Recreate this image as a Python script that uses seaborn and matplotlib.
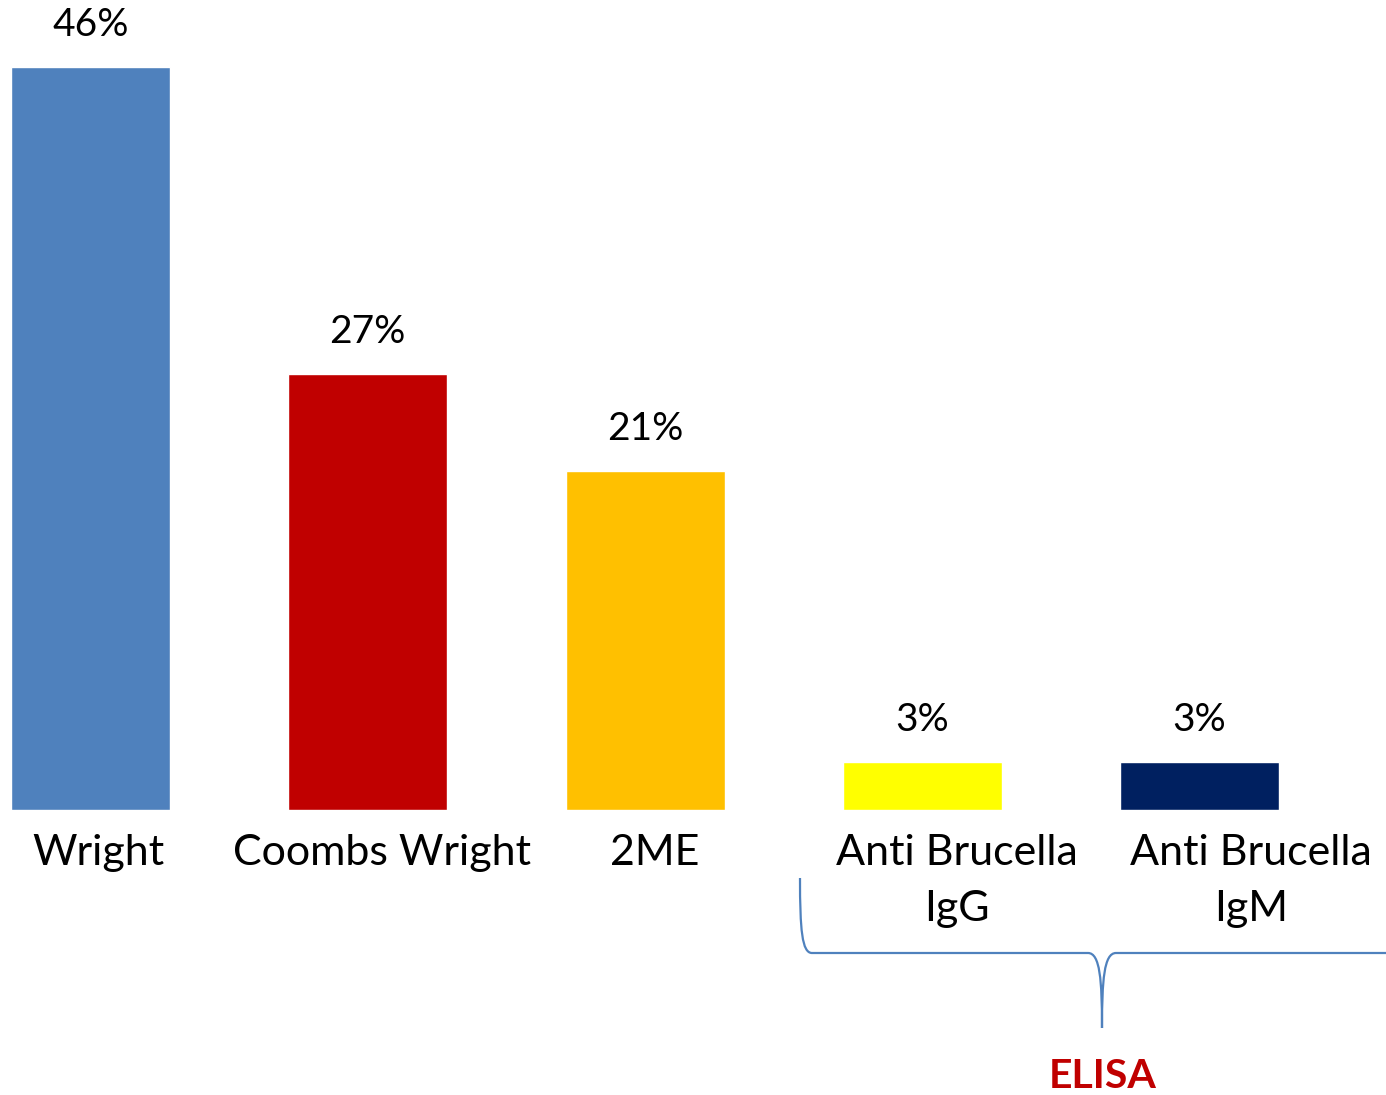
import matplotlib
matplotlib.use("Agg")
import matplotlib.pyplot as plt
from matplotlib.path import Path
from matplotlib.patches import PathPatch
from matplotlib.transforms import ScaledTranslation
import seaborn as sns
import pandas as pd

categories = ["Wright", "Coombs Wright", "2ME", "Anti Brucella\nIgG", "Anti Brucella\nIgM"]
percent = [46, 27, 21, 3, 3]
bar_colors = ["#4F81BD", "#C00000", "#FFC000", "#FFFF00", "#002060"]
group_label = "ELISA"

sns.set_theme(style="white")
plt.rcParams["font.family"] = ["Lato", "DejaVu Sans"]

df = pd.DataFrame({"test": categories, "pct": percent})

W, H = 1386, 1095
fig = plt.figure(figsize=(W / 100, H / 100), dpi=100)
ax = fig.add_axes([0, 285 / H, 1, 810 / H])

sns.barplot(data=df, x="test", y="pct", hue="test", palette=bar_colors,
            width=0.5735, legend=False, ax=ax, saturation=1)

ax.set_xlim(-0.3264, 4.672)
ax.set_ylim(0, 50.15)
for s in ax.spines.values():
    s.set_visible(False)
ax.set_yticks([])
ax.set_xlabel("")
ax.set_ylabel("")

for c in ax.containers:
    ax.bar_label(c, labels=[f"{v:.0f}%" for v in c.datavalues],
                 padding=17, fontsize=28, color="black")

ax.tick_params(axis="x", length=0, pad=17, labelsize=31)
shift_px = [8, 14, 10, 35, 51]
for lab, dx in zip(ax.get_xticklabels(), shift_px):
    lab.set_multialignment("center")
    lab.set_linespacing(1.6)
    lab.set_color("black")
    lab.set_transform(lab.get_transform() + ScaledTranslation(dx / 100, 0, fig.dpi_scale_trans))

# curly brace under the ELISA group (figure pixel coordinates, y from top)
def fy(y):
    return H - y

pts = [
    (800, fy(878)),
    (800, fy(930)), (802, fy(953)), (812, fy(953)),
    (1088, fy(953)),
    (1100, fy(953)), (1102, fy(980)), (1102, fy(1028)),
    (1102, fy(980)), (1104, fy(953)), (1116, fy(953)),
    (1400, fy(953)),
]
codes = [Path.MOVETO,
         Path.CURVE4, Path.CURVE4, Path.CURVE4,
         Path.LINETO,
         Path.CURVE4, Path.CURVE4, Path.CURVE4,
         Path.CURVE4, Path.CURVE4, Path.CURVE4,
         Path.LINETO]
brace = PathPatch(Path([(x / W, y / H) for x, y in pts], codes),
                  transform=fig.transFigure, fill=False,
                  edgecolor="#4F81BD", linewidth=1.6)
fig.patches.append(brace)

fig.text(1103 / W, fy(1076) / H, group_label, ha="center", va="center",
         fontsize=29.5, fontweight="bold", color="#C00000")

fig.savefig("out.png", dpi=100)
